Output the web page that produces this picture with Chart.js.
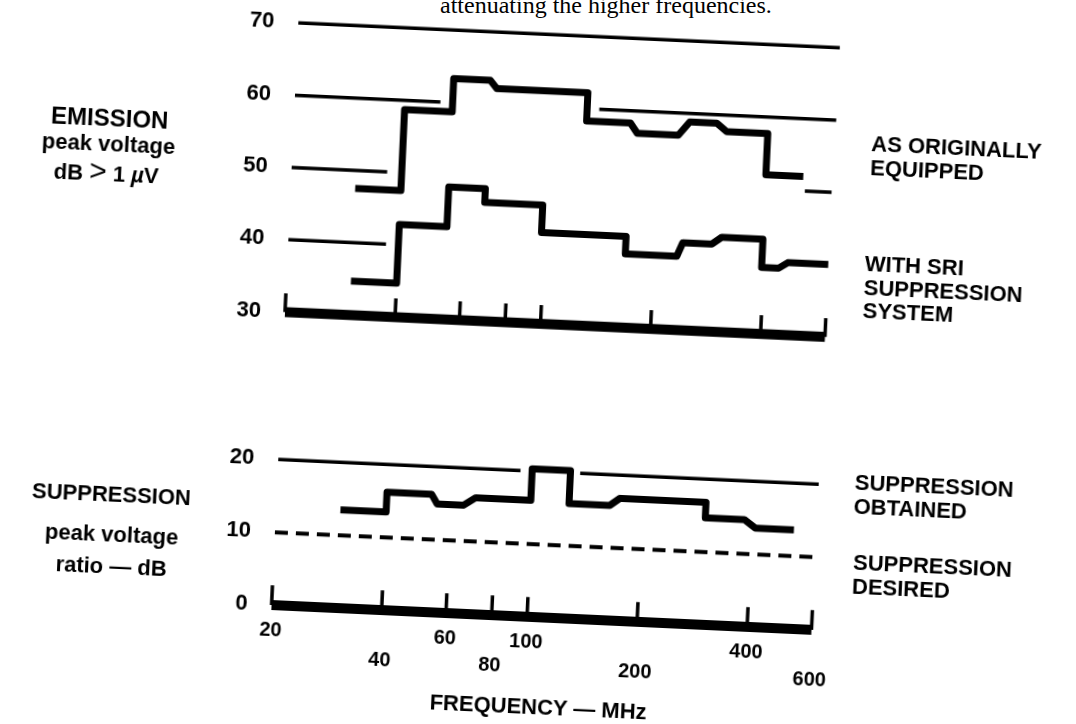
<!DOCTYPE html>
<html>
<head>
<meta charset="utf-8">
<script src="https://cdn.jsdelivr.net/npm/chart.js@4.4.1/dist/chart.umd.min.js"></script>
<style>
  html, body { margin:0; padding:0; background:#fff; }
  body { width:1076px; height:724px; overflow:hidden; position:relative; font-family:"Liberation Sans", Arial, sans-serif; color:#000; }
  #figura { position:absolute; left:0; top:0; width:1076px; height:724px; transform-origin:538px 362px; transform:rotate(2.63deg); }
  canvas { position:absolute; left:0; }
  .t { position:absolute; font-weight:bold; font-size:22px; line-height:22px; white-space:nowrap; transform:translate(-50%,-50%); }
  .r { position:absolute; font-weight:bold; font-size:22px; line-height:22px; white-space:nowrap; transform:translateY(-50%); }
  #texto { position:absolute; left:440px; top:-7px; font-family:"Liberation Serif", serif; font-size:24px; line-height:24px; white-space:nowrap; }
</style>
</head>
<body>
<div id="texto">attenuating the higher frequencies.</div>
<div id="figura">
  <canvas id="emision" width="880" height="360" style="top:0px"></canvas>
  <canvas id="supresion" width="880" height="260" style="top:440px"></canvas>

  <div class="t" style="left:99px;top:138px;font-size:24px">EMISSION</div>
  <div class="t" style="left:99px;top:164px">peak voltage</div>
  <div class="t" style="left:98px;top:192px">dB <span style="font-weight:normal;font-size:30px">&gt;</span> 1 <i>µ</i>V</div>

  <div class="t" style="left:118px;top:514px">SUPPRESSION</div>
  <div class="t" style="left:120px;top:554px">peak voltage</div>
  <div class="t" style="left:121px;top:586px">ratio — dB</div>

  <div class="r" style="left:861px;top:129px">AS ORIGINALLY</div>
  <div class="r" style="left:861px;top:153px">EQUIPPED</div>
  <div class="r" style="left:860px;top:249px">WITH SRI</div>
  <div class="r" style="left:860px;top:273px">SUPPRESSION</div>
  <div class="r" style="left:860px;top:296px">SYSTEM</div>
  <div class="r" style="left:860px;top:468px">SUPPRESSION</div>
  <div class="r" style="left:860px;top:492px">OBTAINED</div>
  <div class="r" style="left:862px;top:548px">SUPPRESSION</div>
  <div class="r" style="left:862px;top:572px">DESIRED</div>

  <div class="t" style="left:554px;top:707px">FREQUENCY — MHz</div>
</div>

<script>
Chart.defaults.font.family = '"Liberation Sans", Arial, sans-serif'
Chart.defaults.color = '#000'

const marcasFrecuencia = [20, 40, 60, 80, 100, 200, 400, 600]
const marcasEmision = [30, 40, 50, 60, 70]
const marcasSupresion = [0, 10, 20]

// escalones "AS ORIGINALLY EQUIPPED" (MHz, dB)
const originalFrec = [30, 40, 40, 54, 54, 68, 71, 126, 126, 166, 174, 225, 241, 286, 305, 395, 395, 500]
const originalDb = [47.5, 47.5, 58.7, 58.7, 63.3, 63.3, 62.2, 62.2, 58.3, 58.3, 56.9, 56.9, 58.8, 58.8, 57.7, 57.7, 52.0, 52.0]

// escalones "WITH SRI SUPPRESSION SYSTEM"
const sriFrec = [30, 40, 40, 54, 54, 68, 68, 98, 98, 167, 167, 231, 239, 287, 305, 395, 395, 440, 465, 600]
const sriDb = [34.7, 34.7, 42.8, 42.8, 48.3, 48.3, 46.4, 46.4, 42.6, 42.6, 40.2, 40.2, 42.1, 42.1, 43.1, 43.1, 39.2, 39.2, 40.0, 40.0]

// "SUPPRESSION OBTAINED"
const obtenidaFrec = [30, 40, 40, 53, 55, 65, 70, 99, 99, 126, 126, 163, 173, 298, 298, 381, 409, 522]
const obtenidaDb = [13.5, 13.5, 16.2, 16.2, 14.9, 14.9, 16.0, 16.0, 20.3, 20.3, 15.8, 15.8, 16.8, 16.8, 14.7, 14.7, 13.6, 13.6]

// "SUPPRESSION DESIRED"
const deseadaFrec = [20, 600]
const deseadaDb = [10, 10]

// lineas de referencia, cortadas donde las tapa la curva
const reglasEmisionDb = [70, 60, 60, 50, 50, 40]
const reglasEmisionDesde = [20, 20, 136, 20, 507, 20]
const reglasEmisionHasta = [606, 50, 605, 36.5, 600, 37]
const reglasSupresionDb = [20, 20]
const reglasSupresionDesde = [20, 134]
const reglasSupresionHasta = [92, 602]


const puntos = (xs, ys) => xs.map((x, i) => ({x: x, y: ys[i]}))

const tramos = (desde, hasta, niveles) => {
  let salida = []
  for (let i = 0; i < niveles.length; i++) {
    salida.push({x: desde[i], y: niveles[i]}, {x: hasta[i], y: niveles[i]}, {x: hasta[i], y: null})
  }
  return salida
}

const rayitas = (base, largo) => {
  let salida = []
  marcasFrecuencia.forEach((f) => {
    salida.push({x: f, y: base}, {x: f, y: base + largo}, {x: f, y: null})
  })
  return salida
}

const barra = (base) => [
  {x: marcasFrecuencia[0], y: base},
  {x: marcasFrecuencia[marcasFrecuencia.length - 1], y: base}
]

const linea = (data, ancho, extra) => Object.assign({
  data: data,
  borderColor: '#000',
  borderWidth: ancho,
  pointRadius: 0,
  fill: false,
  tension: 0,
  clip: false,
  borderJoinStyle: 'round',
  borderCapStyle: 'butt'
}, extra || {})


const crearGrafico = (id, conjuntos, yMin, yMax, marcasY, relleno, conEtiquetasX) => {
  const ctx = document.getElementById(id).getContext('2d')
  return new Chart(ctx, {
    type: 'line',
    data: { datasets: conjuntos },
    options: {
      responsive: false,
      animation: false,
      devicePixelRatio: 1,
      events: [],
      layout: { padding: relleno },
      plugins: { legend: {display: false}, tooltip: {enabled: false} },
      scales: {
        x: {
          type: 'logarithmic',
          min: 20,
          max: 620,
          display: conEtiquetasX,
          grid: {display: false, drawTicks: false},
          border: {display: false},
          afterBuildTicks: (s) => { s.ticks = marcasFrecuencia.map((v) => ({value: v})) },
          afterFit: (s) => { if (conEtiquetasX) s.height = 60 },
          ticks: {
            autoSkip: false,
            maxRotation: 0,
            minRotation: 0,
            padding: 4,
            color: '#000',
            font: {size: 20, weight: 'bold', lineHeight: 25 / 20},
            callback: (v, i) => i % 2 ? ['', String(v)] : String(v)
          }
        },
        y: {
          min: yMin,
          max: yMax,
          // tickLength separa los numeros del eje sin inflar el relleno vertical
          grid: {display: false, drawTicks: true, tickLength: 24},
          border: {display: false},
          afterBuildTicks: (s) => { s.ticks = marcasY.map((v) => ({value: v})) },
          afterFit: (s) => { s.width = 283 },
          ticks: { padding: 0, color: '#000', font: {size: 22, weight: 'bold', lineHeight: 1} }
        }
      }
    }
  })
}

crearGrafico('emision', [
  linea(puntos(originalFrec, originalDb), 7),
  linea(puntos(sriFrec, sriDb), 7),
  linea(tramos(reglasEmisionDesde, reglasEmisionHasta, reglasEmisionDb), 3.5),
  linea(barra(30), 10),
  linea(rayitas(30, 2.6), 3.5)
], 27, 72, marcasEmision, {left: 0, right: 51.3, top: 19.8, bottom: 14.6}, false)

crearGrafico('supresion', [
  linea(puntos(obtenidaFrec, obtenidaDb), 7),
  linea(puntos(deseadaFrec, deseadaDb), 4, {borderDash: [13, 8]}),
  linea(tramos(reglasSupresionDesde, reglasSupresionHasta, reglasSupresionDb), 3.5),
  linea(barra(0), 10),
  linea(rayitas(0, 2.7), 3.5)
], -1.2, 22.5, marcasSupresion, {left: 0, right: 51.3, top: 13.1, bottom: 14.3}, true)
</script>
</body>
</html>
